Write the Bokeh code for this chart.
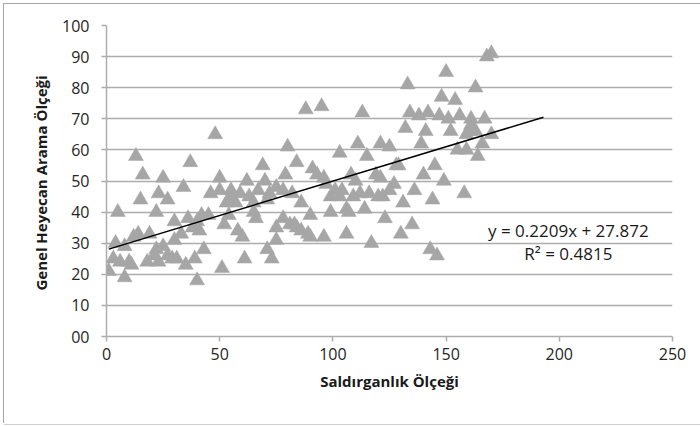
from bokeh.plotting import figure
from bokeh.models import Range1d, FixedTicker, Label
from bokeh.embed import file_html
from bokeh.resources import INLINE

# Saldırganlık (aggression) scores
aggression = [
    48, 13, 37, 16, 25, 34, 23, 27, 15, 5,
    22, 30, 36, 41, 33, 12, 14, 19, 4, 8,
    3, 6, 10, 11, 1, 8, 18, 21, 23, 22,
    25, 29, 31, 27, 35, 39, 43, 40, 51, 61,
    73, 71, 75, 60, 58, 52, 54, 38, 30, 42,
    45, 46, 50, 50, 55, 55, 59, 62, 67, 70,
    69, 72, 75, 65, 66, 53, 57, 75, 63, 71,
    65, 40,
    150, 133, 148, 154, 163, 88, 95, 113, 134, 138,
    142, 147, 151, 156, 161, 132, 141, 152, 159, 139,
    155, 159, 164, 80, 84, 103, 111, 115, 121, 125,
    129, 79, 91, 93, 96, 97, 108, 110, 119, 121,
    128, 140, 145, 149, 158, 136, 144, 131, 78, 82,
    86, 90, 99, 101, 99, 103, 104, 106, 107, 109,
    112, 114, 116, 120, 122, 125, 127, 123, 106, 130,
    135, 117, 143, 146, 96, 89, 86, 84, 83, 78,
    81, 90,
    170, 168, 167, 161, 163, 160, 170, 166,
]

# Genel Heyecan Arama (sensation seeking) scores
sensation = [
    65, 58, 56, 52, 51, 48, 46, 44, 44, 40,
    40, 37, 38, 34, 33, 32, 33, 33, 30, 29,
    25, 24, 24, 23, 21, 19, 24, 26, 24, 28,
    29, 25, 25, 26, 23, 25, 28, 18, 22, 25,
    25, 28, 31, 32, 34, 36, 39, 35, 31, 39,
    39, 46, 51, 47, 47, 45, 46, 50, 47, 50,
    55, 46, 48, 40, 38, 43, 43, 35, 45, 44,
    43, 37,
    85, 81, 77, 76, 80, 73, 74, 72, 72, 71,
    72, 71, 70, 71, 70, 67, 66, 66, 65, 62,
    60, 60, 58, 61, 56, 59, 62, 58, 62, 61,
    55, 52, 54, 52, 51, 49, 52, 50, 52, 51,
    55, 52, 55, 50, 46, 47, 44, 43, 47, 46,
    43, 39, 40, 47, 45, 45, 47, 41, 40, 45,
    46, 41, 46, 45, 45, 47, 49, 38, 33, 33,
    36, 30, 28, 26, 32, 33, 34, 35, 36, 38,
    36, 32,
    91, 90, 70, 68, 66, 66, 65, 62,
]

# Linear trendline (least squares) and its forward forecast
slope = 0.2209
intercept = 27.872
r_squared = 0.4815
forecast_forward = 23

x_ticks = [0, 50, 100, 150, 200, 250]
y_ticks = [0, 10, 20, 30, 40, 50, 60, 70, 80, 90, 100]
y_tick_labels = {0: "00"}

FONT = "Open Sans"
GRID = "#adadad"

p = figure(
    width=704, height=420,
    output_backend="svg", toolbar_location=None,
    x_range=Range1d(0, 250), y_range=Range1d(0, 100),
    min_border_left=102, min_border_right=36,
    min_border_top=21, min_border_bottom=88,
    margin=(4, 0, 0, 4),
)
# chart-area frame on the left, top and bottom edges
p.styles = {"box-shadow": "-1px -1px 0 0 #a6a6a6, 0 1px 0 0 #d0d0d0"}
p.outline_line_color = None
p.background_fill_color = "white"
p.border_fill_color = "white"

p.xgrid.visible = False
p.ygrid.grid_line_color = GRID
p.ygrid.grid_line_width = 1.5

for ax in (p.xaxis[0], p.yaxis[0]):
    ax.axis_line_color = GRID
    ax.axis_line_width = 1.5
    ax.major_tick_line_color = GRID
    ax.major_tick_line_width = 1.5
    ax.major_tick_out = 5
    ax.major_tick_in = 0
    ax.minor_tick_line_color = None
    ax.major_label_text_font = FONT
    ax.major_label_text_font_size = "16px"
    ax.major_label_text_color = "#262626"
    ax.axis_label_text_font = FONT
    ax.axis_label_text_font_size = "15px"
    ax.axis_label_text_font_style = "bold"
    ax.axis_label_text_color = "#1a1a1a"

p.xaxis.ticker = FixedTicker(ticks=x_ticks)
p.yaxis.ticker = FixedTicker(ticks=y_ticks)
p.yaxis.major_label_overrides = y_tick_labels
p.xaxis.major_label_standoff = 6
p.xaxis.axis_label_standoff = 8
p.yaxis.major_label_standoff = 12
p.yaxis.axis_label_standoff = 8

p.xaxis.axis_label = "Saldırganlık Ölçeği"
p.yaxis.axis_label = "Genel Heyecan  Arama Ölçeği"

# scatter of individual scores
p.scatter(aggression, sensation, marker="triangle", size=15,
          fill_color="#a6a6a6", line_color="#a6a6a6", line_width=0.5)

# trendline from the fitted equation
x0 = min(aggression)
x1 = max(aggression) + forecast_forward
p.line([x0, x1], [slope * x0 + intercept, slope * x1 + intercept],
       line_color="black", line_width=1.5)

eq_text = f"y = {slope}x + {intercept}"
r2_text = f"R² = {r_squared}"
p.add_layout(Label(x=204, y=34, text=eq_text, text_align="center",
                   text_baseline="middle", text_font=FONT,
                   text_font_size="17px", text_color="#1a1a1a"))
p.add_layout(Label(x=204, y=26.6, text=r2_text, text_align="center",
                   text_baseline="middle", text_font=FONT,
                   text_font_size="17px", text_color="#1a1a1a"))

open("out.html", "w").write(file_html(p, INLINE))
